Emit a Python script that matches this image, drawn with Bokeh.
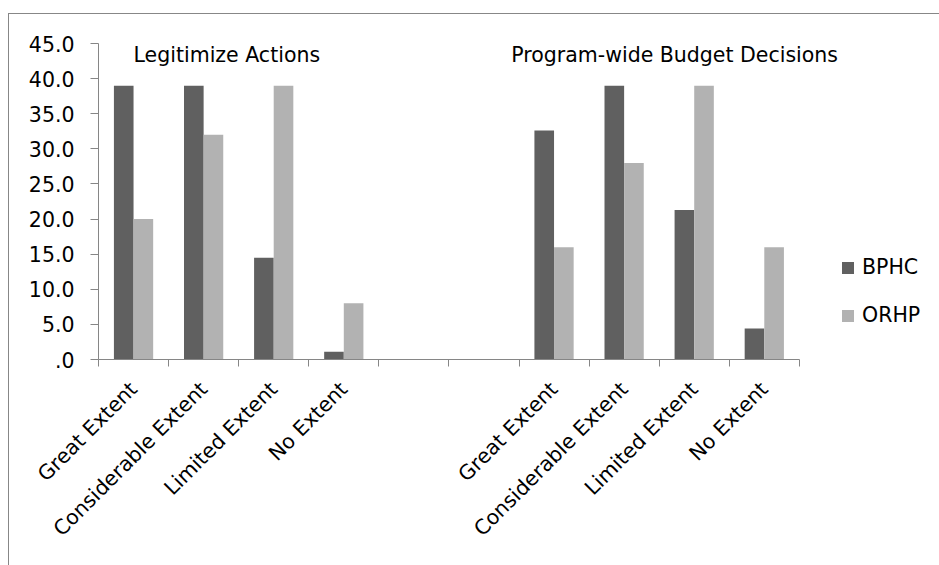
import math
from bokeh.plotting import figure
from bokeh.models import (ColumnDataSource, FixedTicker, Legend, LegendItem, Label)
from bokeh.embed import file_html
from bokeh.resources import INLINE

# Response categories for the two question groups, separated by two empty slots
categories = ["Great Extent", "Considerable Extent", "Limited Extent", "No Extent",
              "", "",
              "Great Extent", "Considerable Extent", "Limited Extent", "No Extent"]
bphc = [39.0, 39.0, 14.5, 1.1, 0.0, 0.0, 32.6, 39.0, 21.3, 4.4]
orhp = [20.0, 32.0, 39.0, 8.0, 0.0, 0.0, 16.0, 28.0, 39.0, 16.0]
series_names = ["BPHC", "ORHP"]
group_titles = ["Legitimize Actions", "Program-wide Budget Decisions"]
y_ticks = [0, 5, 10, 15, 20, 25, 30, 35, 40, 45]
y_tick_labels = [".0", "5.0", "10.0", "15.0", "20.0", "25.0", "30.0", "35.0", "40.0", "45.0"]

FONT = "DejaVu Sans"
FS = "20.5px"
AXIS_GREY = "#868686"
DARK = "#606060"
LIGHT = "#b2b2b2"

n = len(categories)
centers = [i + 0.5 for i in range(n)]
bar_w = 0.28
src = ColumnDataSource(dict(
    x_b=[c - bar_w / 2 for c in centers],
    x_o=[c + bar_w / 2 for c in centers],
    bphc=bphc, orhp=orhp))

# the frame runs to the right edge so the legend and titles sit inside it;
# the x axis line itself stops after the last category
p = figure(frame_width=841, frame_height=316,
           min_border_left=89, min_border_top=29,
           min_border_right=0, min_border_bottom=206,
           x_range=(0, n + 2), y_range=(0, 45),
           output_backend="svg", toolbar_location=None,
           margin=(13, 0, 0, 8),
           styles={"border-left": "1px solid #878787",
                   "border-top": "1px solid #878787"})
p.outline_line_color = None
p.grid.visible = False
p.background_fill_color = "white"
p.border_fill_color = "white"

r_b = p.vbar(x="x_b", top="bphc", width=bar_w, source=src,
             fill_color=DARK, line_color=None)
r_o = p.vbar(x="x_o", top="orhp", width=bar_w, source=src,
             fill_color=LIGHT, line_color=None)

# x axis: labels at category centres, tick marks on category boundaries
xa = p.xaxis[0]
xa.bounds = (0, n)
xa.ticker = FixedTicker(ticks=centers, minor_ticks=list(range(n + 1)))
xa.major_label_overrides = {c: lab for c, lab in zip(centers, categories)}
xa.major_label_orientation = math.pi / 4
xa.major_tick_out = 0
xa.major_tick_in = 0
xa.minor_tick_out = 7
xa.minor_tick_in = 0
xa.minor_tick_line_color = AXIS_GREY
xa.axis_line_color = AXIS_GREY
xa.major_label_standoff = 19
xa.major_label_text_font = FONT
xa.major_label_text_font_size = FS
xa.major_label_text_color = "black"

ya = p.yaxis[0]
ya.ticker = FixedTicker(ticks=y_ticks)
ya.major_label_overrides = {t: lab for t, lab in zip(y_ticks, y_tick_labels)}
ya.minor_tick_line_color = None
ya.major_tick_out = 8
ya.major_tick_in = 0
ya.major_tick_line_color = AXIS_GREY
ya.axis_line_color = AXIS_GREY
ya.major_label_standoff = 16
ya.major_label_text_font = FONT
ya.major_label_text_font_size = FS
ya.major_label_text_color = "black"

# group titles inside the plot area
for xpos, title in zip([0.5, 5.89], group_titles):
    p.add_layout(Label(x=xpos, y=43.4, text=title, text_font=FONT,
                       text_font_size=FS, text_baseline="middle",
                       text_color="black"))

legend = Legend(items=[LegendItem(label=series_names[0], renderers=[r_b]),
                       LegendItem(label=series_names[1], renderers=[r_o])],
                location=(742, 32), orientation="vertical",
                glyph_width=15, glyph_height=15, label_standoff=7,
                spacing=24, padding=0, margin=0,
                border_line_color=None, background_fill_alpha=0,
                label_text_font=FONT, label_text_font_size=FS,
                label_text_color="black")
p.add_layout(legend)

open("out.html", "w").write(file_html(p, INLINE))
